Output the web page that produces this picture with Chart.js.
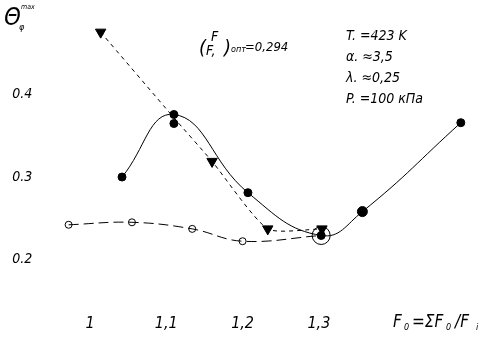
<!DOCTYPE html>
<html>
<head>
<meta charset="utf-8">
<script src="https://cdn.jsdelivr.net/npm/chart.js@4.4.0/dist/chart.umd.min.js"></script>
<style>
  html, body { margin: 0; padding: 0; background: #fff; }
  #wrap { width: 489px; height: 339px; position: relative; }
</style>
</head>
<body>
<div id="wrap"><canvas id="chart"></canvas></div>
<script>
// Solid curve, filled circles
const solidX = [1.042, 1.110, 1.207, 1.303, 1.357, 1.486];
const solidY = [0.300, 0.376, 0.281, 0.229, 0.258, 0.366];
// Short-dashed curve, down triangles
const triX = [1.014, 1.110, 1.160, 1.233, 1.304];
const triY = [0.476, 0.372, 0.319, 0.237, 0.237];
// Long-dashed curve, open circles
const openX = [0.972, 1.055, 1.134, 1.200, 1.303];
const openY = [0.242, 0.245, 0.237, 0.222, 0.229];
// Single extra filled circle at 1.1
const extraX = [1.110];
const extraY = [0.365];

const xTicks = [1.0, 1.1, 1.2, 1.3];
const xTickLabels = ['1', '1,1', '1,2', '1,3'];
const yTicks = [0.2, 0.3, 0.4];
const yTickLabels = ['0.2', '0.3', '0.4'];

const FONT = "'Liberation Sans Narrow', 'DejaVu Sans Condensed', sans-serif";

function pts(xs, ys) {
    return xs.map((x, i) => ({ x: x, y: ys[i] }));
}

// Text labels drawn on top
const notes = {
    id: 'notes',
    afterDraw(chart) {
        const ctx = chart.ctx;
        ctx.save();
        ctx.fillStyle = '#000';
        ctx.textBaseline = 'alphabetic';
        ctx.textAlign = 'left';

        // axis symbol top left
        ctx.font = `italic 24px ${FONT}`;
        ctx.fillText('Θ', 4, 25);
        ctx.font = `italic 9px ${FONT}`;
        ctx.fillText('φ', 19, 30);
        ctx.font = `italic 7px ${FONT}`;
        ctx.fillText('max', 21, 9);

        // (F/Fi)opt
        ctx.font = `italic 20px ${FONT}`;
        ctx.fillText('(', 199, 54);
        ctx.fillText(')', 224, 54);
        ctx.font = `italic 14px ${FONT}`;
        ctx.fillText('F', 211, 41);
        ctx.fillText('F,', 206, 55);
        ctx.font = `italic 9px ${FONT}`;
        ctx.fillText('опт', 231, 52);
        ctx.font = `italic 13px ${FONT}`;
        ctx.fillText('=0,294', 245, 51);

        // parameters
        ctx.font = `italic 14px ${FONT}`;
        ctx.fillText('T. =423 K', 346, 40);
        ctx.fillText('α. ≈3,5', 346, 61);
        ctx.fillText('λ. ≈0,25', 346, 82);
        ctx.fillText('P. =100 кПа', 346, 103);

        // x axis title
        ctx.font = `italic 17px ${FONT}`;
        ctx.fillText('F', 393, 327);
        ctx.font = `italic 9px ${FONT}`;
        ctx.fillText('0', 404, 330);
        ctx.font = `italic 17px ${FONT}`;
        ctx.fillText('=ΣF', 412, 327);
        ctx.font = `italic 9px ${FONT}`;
        ctx.fillText('0', 446, 330);
        ctx.font = `italic 17px ${FONT}`;
        ctx.fillText('/F', 455, 327);
        ctx.font = `italic 9px ${FONT}`;
        ctx.fillText('i', 476, 330);
        ctx.restore();
    }
};

new Chart(document.getElementById('chart'), {
    type: 'scatter',
    data: {
        datasets: [
            {
                data: pts(solidX, solidY),
                showLine: true,
                borderColor: '#000',
                borderWidth: 1,
                tension: 0.45,
                pointStyle: 'circle',
                pointRadius: [4, 4, 4, 4, 5, 4],
                pointBackgroundColor: '#000',
                pointBorderColor: '#000'
            },
            {
                data: pts(triX, triY),
                showLine: true,
                borderColor: '#000',
                borderWidth: 1,
                borderDash: [4, 4],
                tension: 0.2,
                pointStyle: 'triangle',
                pointRotation: 180,
                pointRadius: [6, 0, 6, 6, 6],
                pointBackgroundColor: '#000',
                pointBorderColor: '#000'
            },
            {
                data: pts(openX, openY),
                showLine: true,
                borderColor: '#000',
                borderWidth: 1,
                borderDash: [10, 5],
                tension: 0.4,
                pointStyle: 'circle',
                pointRadius: [3.5, 3.5, 3.5, 3.5, 9],
                pointBackgroundColor: 'rgba(255,255,255,0)',
                pointBorderColor: '#000',
                pointBorderWidth: 1
            },
            {
                data: pts(extraX, extraY),
                pointStyle: 'circle',
                pointRadius: 4,
                pointBackgroundColor: '#000',
                pointBorderColor: '#000'
            }
        ]
    },
    options: {
        responsive: true,
        maintainAspectRatio: false,
        animation: false,
        layout: { padding: { top: 10, right: 17.5, left: 0, bottom: 0 } },
        plugins: {
            legend: { display: false },
            tooltip: { enabled: false }
        },
        scales: {
            x: {
                type: 'linear',
                min: 0.94,
                max: 1.5,
                border: { display: false },
                grid: { display: false },
                afterBuildTicks: s => { s.ticks = xTicks.map(v => ({ value: v })); },
                afterFit: s => { s.height = 38.5; },
                ticks: {
                    color: '#000',
                    padding: 6,
                    font: { family: FONT, size: 16, style: 'italic' },
                    maxRotation: 0,
                    callback: (v) => xTickLabels[xTicks.findIndex(t => Math.abs(t - v) < 1e-6)]
                }
            },
            y: {
                type: 'linear',
                min: 0.15,
                max: 0.5,
                border: { display: false },
                grid: { display: false },
                afterBuildTicks: s => { s.ticks = yTicks.map(v => ({ value: v })); },
                afterFit: s => { s.width = 44.2; },
                ticks: {
                    color: '#000',
                    padding: 4,
                    font: { family: FONT, size: 14, style: 'italic' },
                    callback: (v) => yTickLabels[yTicks.findIndex(t => Math.abs(t - v) < 1e-6)]
                }
            }
        }
    },
    plugins: [notes]
});
</script>
</body>
</html>
